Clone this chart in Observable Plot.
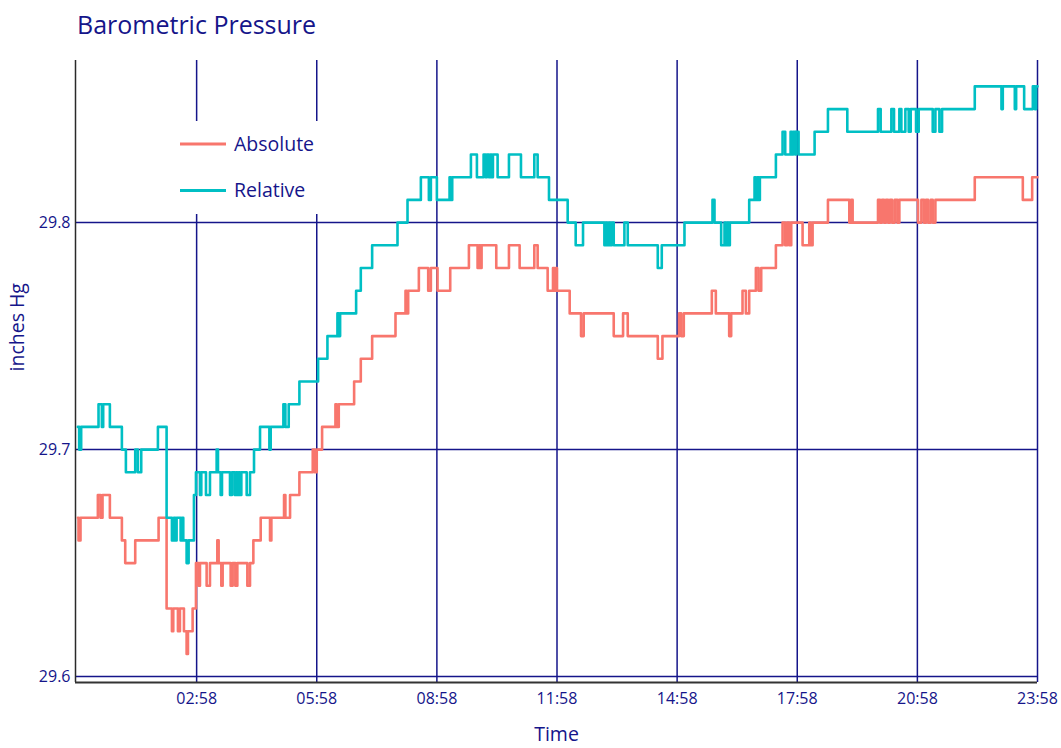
<!DOCTYPE html>
<html>
<head>
<meta charset="utf-8">
<script src="https://cdn.jsdelivr.net/npm/d3@7"></script>
<script src="https://cdn.jsdelivr.net/npm/@observablehq/plot@0.6"></script>
<style>
  html, body { margin: 0; padding: 0; background: #fff; }
  #wrap { position: relative; width: 1061px; height: 748px; font-family: "Open Sans", sans-serif; color: #15158a; }
  #title { position: absolute; left: 77px; top: 12px; font-size: 25px; line-height: 1; white-space: nowrap; }
  #chart { position: absolute; left: 0; top: 50px; }
  #legend { position: absolute; left: 0; top: 0; pointer-events: none; }
</style>
</head>
<body>
<div id="wrap">
  <div id="title">Barometric Pressure</div>
  <div id="chart"></div>
  <svg id="legend" width="1061" height="748"></svg>
</div>
<script>
// ---- data (times are HH:MM of the day; each reading holds until the next) ----
const seriesNames = ["Absolute", "Relative"];
const seriesColors = ["#F8766D", "#00BFC4"];

const relativeTimes = ["00:00","00:02","00:05","00:31","00:36","00:38","00:48","01:06","01:12","01:26","01:30","01:35","02:00","02:13","02:21","02:24","02:26","02:28","02:34","02:36","02:38","02:43","02:46","02:54","02:57","03:03","03:05","03:12","03:18","03:28","03:30","03:34","03:36","03:48","03:51","03:55","03:57","03:59","04:01","04:03","04:05","04:13","04:18","04:24","04:33","04:47","04:49","05:08","05:11","05:16","05:32","06:00","06:14","06:29","06:31","06:33","06:57","07:04","07:21","07:59","08:14","08:34","08:46","08:49","08:58","09:17","09:19","09:21","09:49","09:58","10:08","10:11","10:13","10:16","10:18","10:20","10:22","10:29","10:46","11:04","11:24","11:29","11:46","12:14","12:26","12:37","13:09","13:11","13:13","13:16","13:18","13:20","13:23","13:39","13:44","14:29","14:35","15:09","15:51","15:54","16:04","16:09","16:11","16:13","16:15","16:17","16:46","16:54","16:56","16:58","17:00","17:02","17:26","17:36","17:40","17:48","17:50","17:52","17:55","17:56","18:00","18:24","18:44","19:13","19:59","20:03","20:19","20:23","20:31","20:34","20:40","20:45","20:48","20:56","21:00","21:21","21:25","21:31","21:35","22:24","23:04","23:06","23:24","23:26","23:38","23:51","23:54","23:56","23:58"];
const relativeValues = [29.71,29.70,29.71,29.72,29.71,29.72,29.71,29.70,29.69,29.70,29.69,29.70,29.71,29.67,29.66,29.67,29.66,29.67,29.66,29.67,29.66,29.65,29.66,29.68,29.69,29.68,29.69,29.68,29.69,29.70,29.69,29.68,29.69,29.68,29.69,29.68,29.69,29.68,29.69,29.68,29.69,29.68,29.69,29.70,29.71,29.70,29.71,29.72,29.71,29.72,29.73,29.74,29.75,29.76,29.75,29.76,29.77,29.78,29.79,29.80,29.81,29.82,29.81,29.82,29.81,29.82,29.81,29.82,29.83,29.82,29.83,29.82,29.83,29.82,29.83,29.82,29.83,29.82,29.83,29.82,29.83,29.82,29.81,29.80,29.79,29.80,29.79,29.80,29.79,29.80,29.79,29.80,29.79,29.80,29.79,29.78,29.79,29.80,29.81,29.80,29.79,29.80,29.79,29.80,29.79,29.80,29.81,29.82,29.81,29.82,29.81,29.82,29.83,29.84,29.83,29.84,29.83,29.84,29.83,29.84,29.83,29.84,29.85,29.84,29.85,29.84,29.85,29.84,29.85,29.84,29.85,29.84,29.85,29.84,29.85,29.84,29.85,29.84,29.85,29.86,29.85,29.86,29.85,29.86,29.85,29.86,29.85,29.86,29.86];

const absoluteTimes = ["00:00","00:01","00:04","00:30","00:34","00:37","00:48","01:06","01:11","01:26","02:01","02:13","02:21","02:23","02:30","02:33","02:39","02:43","02:45","02:52","02:57","03:01","03:03","03:13","03:18","03:29","03:31","03:35","03:37","03:49","03:52","03:56","03:59","04:14","04:18","04:23","04:34","04:48","04:50","05:09","05:11","05:18","05:32","05:52","05:55","05:58","06:06","06:26","06:28","06:31","06:54","07:04","07:21","07:56","08:11","08:13","08:15","08:31","08:45","08:49","08:59","09:18","09:46","09:59","10:01","10:03","10:05","10:27","10:46","11:02","11:24","11:29","11:44","11:52","11:54","11:56","11:58","12:17","12:34","12:38","13:23","13:37","13:44","14:29","14:36","15:01","15:04","15:08","15:50","15:56","16:16","16:19","16:36","16:41","16:46","16:56","17:00","17:04","17:26","17:36","17:40","17:43","17:46","17:49","18:06","18:16","18:18","18:21","18:44","19:16","19:19","19:21","19:59","20:02","20:05","20:08","20:11","20:14","20:17","20:20","20:24","20:28","20:31","20:59","21:04","21:08","21:11","21:14","21:18","21:21","21:25","22:24","23:36","23:50","23:58"];
const absoluteValues = [29.67,29.66,29.67,29.68,29.67,29.68,29.67,29.66,29.65,29.66,29.67,29.63,29.62,29.63,29.62,29.63,29.62,29.61,29.62,29.63,29.65,29.64,29.65,29.64,29.65,29.66,29.65,29.64,29.65,29.64,29.65,29.64,29.65,29.64,29.65,29.66,29.67,29.66,29.67,29.68,29.67,29.68,29.69,29.70,29.69,29.70,29.71,29.72,29.71,29.72,29.73,29.74,29.75,29.76,29.77,29.76,29.77,29.78,29.77,29.78,29.77,29.78,29.79,29.78,29.79,29.78,29.79,29.78,29.79,29.78,29.79,29.78,29.77,29.78,29.77,29.78,29.77,29.76,29.75,29.76,29.75,29.76,29.75,29.74,29.75,29.76,29.75,29.76,29.77,29.76,29.75,29.76,29.77,29.76,29.77,29.78,29.77,29.78,29.79,29.80,29.79,29.80,29.79,29.80,29.79,29.80,29.79,29.80,29.81,29.80,29.81,29.80,29.81,29.80,29.81,29.80,29.81,29.80,29.81,29.80,29.81,29.80,29.81,29.80,29.81,29.80,29.81,29.80,29.81,29.80,29.81,29.82,29.81,29.82,29.82];

const xTickLabels = ["02:58","05:58","08:58","11:58","14:58","17:58","20:58","23:58"];
const yTickValues = [29.6, 29.7, 29.8];
const xDomain = [-3.5, 1438];          // minutes of the day
const yDomain = [29.5974, 29.8714];    // inches Hg

// ---- helpers ----
const toMin = s => { const [h, m] = s.split(":").map(Number); return h * 60 + m; };
const fmt = m => String(Math.floor(m / 60)).padStart(2, "0") + ":" + String(m % 60).padStart(2, "0");
const ink = "#15158a";

const rows = [
  ...absoluteTimes.map((t, i) => ({series: seriesNames[0], t: toMin(t), v: absoluteValues[i]})),
  ...relativeTimes.map((t, i) => ({series: seriesNames[1], t: toMin(t), v: relativeValues[i]}))
];
const xTicks = xTickLabels.map(toMin);

const chart = Plot.plot({
  width: 1061,
  height: 698,
  marginTop: 10,
  marginBottom: 66,
  marginLeft: 75,
  marginRight: 24,
  style: {fontFamily: "Open Sans, sans-serif", fontSize: "16px", color: ink, background: "white"},
  x: {domain: xDomain, label: null},
  y: {domain: yDomain, label: null},
  color: {domain: seriesNames, range: seriesColors},
  marks: [
    Plot.gridX(xTicks, {stroke: ink, strokeOpacity: 1, strokeWidth: 1.5}),
    Plot.gridY(yTickValues, {stroke: ink, strokeOpacity: 1, strokeWidth: 1.5}),
    Plot.ruleX([xDomain[0]], {stroke: "#2a2a2a", strokeWidth: 1.5}),
    Plot.ruleY([yDomain[0]], {stroke: "#333", strokeWidth: 2.2}),
    Plot.line(rows, {x: "t", y: "v", z: "series", stroke: "series", curve: "step-after", strokeWidth: 2.6}),
    Plot.axisX(xTicks, {tickSize: 0, tickPadding: 10, fontSize: 16, fill: ink, tickFormat: fmt, label: null}),
    Plot.axisY(yTickValues, {tickSize: 0, tickPadding: 5, fontSize: 16, fill: ink, tickFormat: d => d.toFixed(1), label: null}),
    Plot.text(["Time"], {frameAnchor: "bottom", dy: 58, fontSize: 19.5, fill: ink}),
    Plot.text(["inches Hg"], {frameAnchor: "left", dx: -58, rotate: -90, fontSize: 19.5, fill: ink})
  ]
});
document.getElementById("chart").appendChild(chart);

// ---- legend (drawn on a white box over the grid, as in the original) ----
const lg = d3.select("#legend");
lg.append("rect").attr("x", 168).attr("y", 121).attr("width", 162).attr("height", 93).attr("fill", "white");
seriesNames.forEach((name, i) => {
  const cy = 144 + i * 46.5;
  lg.append("line").attr("x1", 180).attr("x2", 226).attr("y1", cy).attr("y2", cy)
    .attr("stroke", seriesColors[i]).attr("stroke-width", 3);
  lg.append("text").attr("x", 234).attr("y", cy).attr("dy", "0.35em")
    .attr("fill", ink).attr("font-size", 19.5).attr("font-family", "Open Sans, sans-serif").text(name);
});
</script>
</body>
</html>
